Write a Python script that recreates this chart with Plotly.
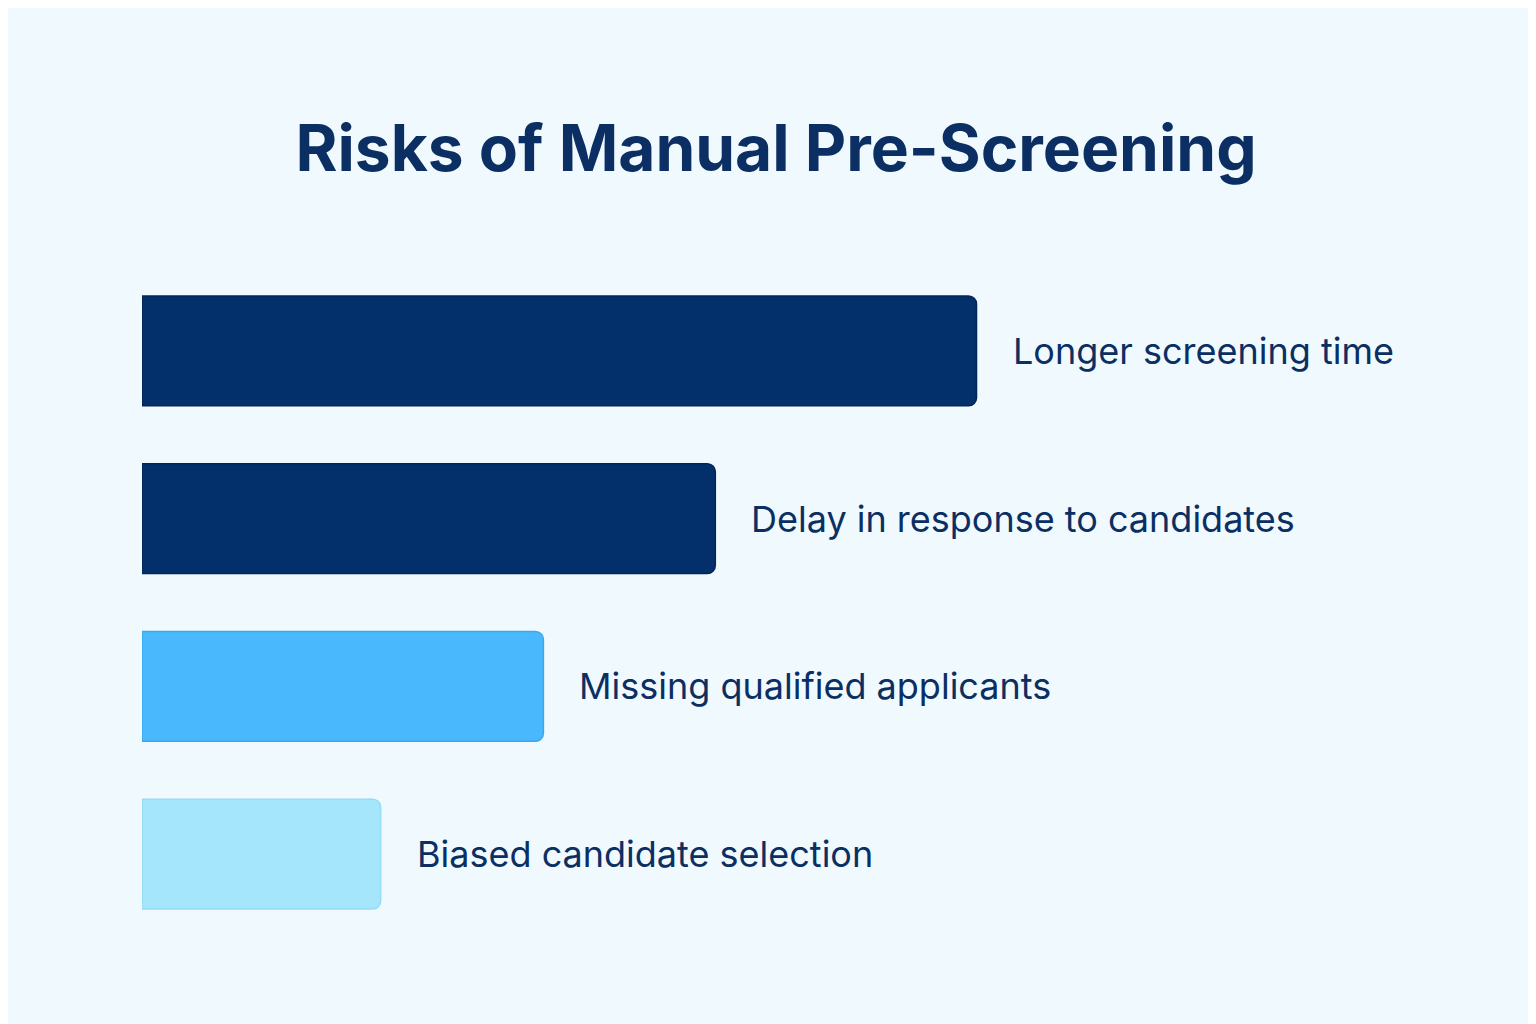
import plotly.graph_objects as go

# Data
risks = ["Longer screening time", "Delay in response to candidates",
         "Missing qualified applicants", "Biased candidate selection"]
values = [10, 6.87, 4.81, 2.86]
colors = ["#03306a", "#03306a", "#4ab8fc", "#a6e6fd"]
edges = ["#022658", "#022658", "#3aa8ef", "#95dcf7"]

fig = go.Figure()
fig.add_trace(go.Bar(x=values, y=risks, orientation="h",
                     marker=dict(color=colors, line=dict(color=edges, width=1.5),
                                 cornerradius=8),
                     hoverinfo="skip"))

for r, v in zip(risks, values):
    fig.add_annotation(x=v, y=r, text=r, showarrow=False, xanchor="left",
                       xshift=34, font=dict(family="Inter", size=36, color="#0b2f63"))

fig.update_layout(
    width=1536, height=1024,
    paper_bgcolor="#f0f9fd", plot_bgcolor="#f0f9fd",
    margin=dict(l=134, r=0, t=259, b=94),
    bargap=0.345, showlegend=False,
    title=dict(text="<b>Risks of Manual Pre-Screening</b>", x=0.5, xanchor="center",
               y=0.863, yanchor="middle",
               font=dict(family="Inter", size=64, color="#0b2f63")),
)
fig.update_xaxes(range=[0, 16.8], visible=False)
fig.update_yaxes(autorange="reversed", visible=False)

fig.write_html("out.html")
